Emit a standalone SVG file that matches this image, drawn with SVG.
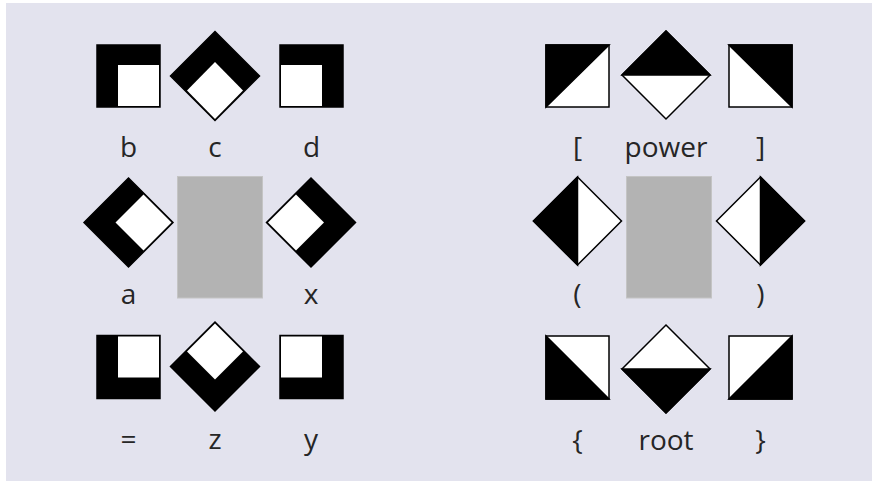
<svg xmlns="http://www.w3.org/2000/svg" width="872" height="481" viewBox="0 0 872 481">
<style>
.k{fill:#000;stroke:#000;stroke-width:1.5;stroke-linejoin:miter}
.w{fill:#fff;stroke:#000;stroke-width:1.5;stroke-linejoin:miter}
.wi{fill:#fff;stroke:none}
.g{fill:#b3b3b3;stroke:#c4c4c4;stroke-width:1}
.t{font-family:"Open Sans","Noto Sans","Liberation Sans",sans-serif;font-size:28px;fill:#262626;text-anchor:middle}
</style>
<rect x="0" y="0" width="872" height="481" fill="#ffffff"/>
<rect x="6" y="3" width="866" height="478" fill="#e3e3ee"/>

<!-- left block -->
<g id="b">
<rect class="k" x="97" y="45" width="63" height="62"/>
<rect class="wi" x="118" y="65" width="41" height="41"/>
<text class="t" x="128.5" y="157">b</text>
</g>
<g id="c">
<polygon class="k" points="215,31.5 259.5,76 215,120.5 170.5,76"/>
<polygon class="wi" points="215,62 243,90.5 215,119 187,90.5"/>
<text class="t" x="215" y="157">c</text>
</g>
<g id="d">
<rect class="k" x="280" y="45" width="63" height="62"/>
<rect class="wi" x="281" y="65" width="41" height="41"/>
<text class="t" x="311.5" y="157">d</text>
</g>
<g id="a">
<polygon class="k" points="128.5,178 173,222.5 128.5,267 84,222.5"/>
<polygon class="wi" points="143.5,194.5 171.5,222.5 143.5,250.5 115.5,222.5"/>
<text class="t" x="128.5" y="304">a</text>
</g>
<g id="left-center">
<rect class="g" x="177.5" y="176.5" width="85" height="121.5"/>
</g>
<g id="x">
<polygon class="k" points="311,178 355.5,222.5 311,267 266.5,222.5"/>
<polygon class="wi" points="296,194.5 324,222.5 296,250.5 268,222.5"/>
<text class="t" x="311" y="304">x</text>
</g>
<g id="equals">
<rect class="k" x="97" y="335.5" width="63" height="63"/>
<rect class="wi" x="118" y="336.5" width="41" height="41"/>
<text class="t" x="128.5" y="449">=</text>
</g>
<g id="z">
<polygon class="k" points="215,322 259.5,366.5 215,411 170.5,366.5"/>
<polygon class="wi" points="215,323.5 243,351.5 215,379.5 187,351.5"/>
<text class="t" x="215" y="449">z</text>
</g>
<g id="y">
<rect class="k" x="280" y="335.5" width="63" height="63"/>
<rect class="wi" x="281" y="336.5" width="41" height="41"/>
<text class="t" x="311" y="449">y</text>
</g>

<!-- right block -->
<g id="lbracket">
<rect class="w" x="546" y="45" width="63" height="62"/>
<polygon class="k" points="546,45 609,45 546,107"/>
<text class="t" x="577.5" y="157">[</text>
</g>
<g id="power">
<polygon class="w" points="666,31 710,75 666,119 622,75"/>
<polygon class="k" points="666,31 710,75 622,75"/>
<text class="t" x="666" y="157">power</text>
</g>
<g id="rbracket">
<rect class="w" x="729" y="45" width="63" height="62"/>
<polygon class="k" points="729,45 792,45 792,107"/>
<text class="t" x="760.5" y="157">]</text>
</g>
<g id="lparen">
<polygon class="w" points="577.5,177 621.5,221 577.5,265 533.5,221"/>
<polygon class="k" points="577.5,177 577.5,265 533.5,221"/>
<text class="t" x="577.5" y="304">(</text>
</g>
<g id="right-center">
<rect class="g" x="626.5" y="176.5" width="85" height="121.5"/>
</g>
<g id="rparen">
<polygon class="w" points="760.5,177 804.5,221 760.5,265 716.5,221"/>
<polygon class="k" points="760.5,177 804.5,221 760.5,265"/>
<text class="t" x="760.5" y="304">)</text>
</g>
<g id="lbrace">
<rect class="w" x="546" y="336" width="63" height="63"/>
<polygon class="k" points="546,336 609,399 546,399"/>
<text class="t" x="577.5" y="450">{</text>
</g>
<g id="root">
<polygon class="w" points="666,325 710,369 666,413 622,369"/>
<polygon class="k" points="622,369 710,369 666,413"/>
<text class="t" x="666" y="450">root</text>
</g>
<g id="rbrace">
<rect class="w" x="729" y="336" width="63" height="63"/>
<polygon class="k" points="792,336 792,399 729,399"/>
<text class="t" x="760.5" y="450">}</text>
</g>
<g id="connectors"/>
</svg>
